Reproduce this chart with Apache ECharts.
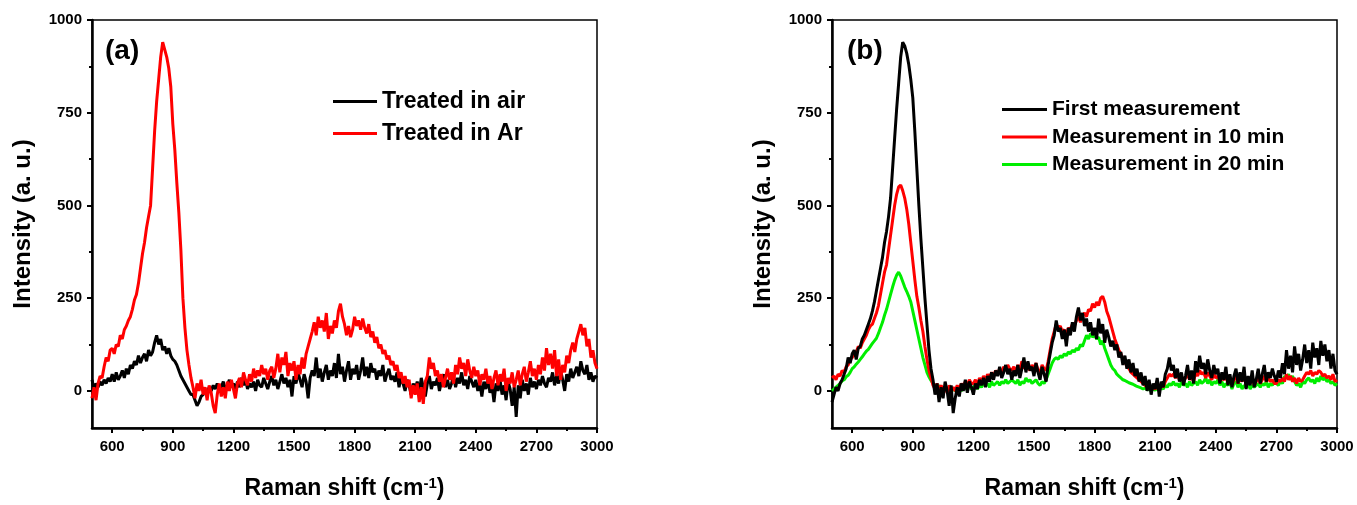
<!DOCTYPE html>
<html>
<head>
<meta charset="utf-8">
<script src="https://cdn.jsdelivr.net/npm/echarts@6/dist/echarts.min.js"></script>
<style>
html, body { margin: 0; padding: 0; background: #fff; }
#chart { width: 1357px; height: 505px; }
</style>
</head>
<body>
<div id="chart"></div>
<script>
// sampling grid of the spectra, cm-1
const shift = []
for (let x = 500; x <= 3000; x += 10) shift.push(x)

const xTicks = [600, 900, 1200, 1500, 1800, 2100, 2400, 2700, 3000]
const xMinor = [750, 1050, 1350, 1650, 1950, 2250, 2550, 2850]
const yTicks = [0, 250, 500, 750, 1000]
const yMinor = [125, 375, 625, 875]

// (a)
const treatedAir = [
  30, 5, 20, 10, 25, 15, 30, 20, 35, 25,
  45, 25, 50, 30, 40, 55, 35, 60, 45, 70,
  60, 80, 70, 95, 75, 90, 100, 80, 110, 95,
  105, 130, 150, 125, 140, 110, 120, 100, 115, 95,
  85, 80, 70, 55, 40, 30, 20, 10, 0, -10,
  -10, -25, -40, -30, -15, -10, 5, -5, 10, 0,
  15, 5, 20, 0, 10, 25, 5, 15, 30, 10,
  20, 5, 25, 10, 35, 15, 30, 5, 20, 10,
  25, 0, 30, 15, 10, 35, 20, 5, 25, 40,
  15, 30, 5, 25, 45, 20, 35, 10, 30, -15,
  40, 20, 50, 30, 10, 45, 25, -20, 35, 55,
  40, 90, 35, 60, 25, 50, 70, 30, 55, 40,
  75, 35, 100, 45, 65, 25, 55, 80, 30, 60,
  45, 70, 30, 55, 90, 40, 65, 35, 75, 50,
  60, 30, 55, 40, 70, 25, 45, 60, 30, 40,
  25, 50, 10, 35, 20, 0, 30, 15, -10, 20,
  5, 25, -5, 35, 10, -15, 20, 40, 5, 25,
  15, 35, 0, 25, 45, 10, 30, 5, 20, 40,
  10, 35, 20, 50, 15, 30, 5, 40, 25, 10,
  30, 0, 20, -15, 25, 5, 35, -5, 15, -30,
  20, 0, 30, -10, 15, -25, 25, 5, -40, 10,
  -70, 15, -20, 30, 0, 20, -10, 35, 10, 25,
  5, 30, 15, 40, 20, 10, 35, 25, 50, 15,
  40, 20, 55, 30, 0, 45, 25, 60, 35, 50,
  65, 40, 80, 55, 45, 70, 30, 50, 25, 40,
  35
]
const treatedAr = [
  -20, 10, -25, 20, 40, 35, 65, 90, 80, 110,
  115, 100, 125, 120, 150, 140, 165, 175, 190, 200,
  220, 245, 260, 290, 330, 370, 400, 440, 470, 500,
  600, 700, 780, 840, 900, 940, 920, 900, 870, 820,
  720, 650, 560, 480, 380, 250, 170, 110, 70, 35,
  10, -20, 20, 0, 30, -10, 10, -25, 15, -5,
  -40, -60, -10, 20, -15, 10, -20, 25, 0, 30,
  5, -20, 20, 35, 10, 50, 30, 15, 45, 25,
  60, 35, 55, 40, 70, 45, 60, 30, 55, 65,
  35, 60, 100, 50, 90, 70, 105, 40, 75, 55,
  80, 30, 70, 45, 90, 60, 100, 120, 140, 160,
  185, 150, 200, 170, 190, 160, 210, 140, 175, 155,
  190, 170, 215, 235, 200, 180, 150, 175, 145, 165,
  200, 175, 190, 165, 195, 170, 155, 180, 145, 160,
  130, 145, 115, 125, 100, 110, 85, 95, 70, 80,
  55, 70, 35, 50, 20, 40, 10, 30, -20, 15,
  -10, 20, -30, 10, -35, 25, 40, 90, 60, 75,
  40, 55, 25, 45, 10, 35, 60, 30, 50, 20,
  70, 45, 90, 60, 75, 40, 85, 55, 35, 65,
  40, 55, 15, 45, 30, 60, 20, 40, 5, 35,
  55, 15, 45, 25, 60, 0, 35, 20, 50, 10,
  30, 55, 15, 45, 65, 25, 50, 80, 40, 60,
  30, 70, 45, 90, 55, 115, 70, 100, 60, 110,
  40, 85, 30, 70, 50, 95, 75, 110, 130, 105,
  140, 160, 180, 150, 170, 120, 140, 90, 110, 75,
  60
]

// (b)
const firstMeas = [
  -30, -10, 10, 0, 20, 30, 45, 60, 90, 75,
  100, 110, 85, 115, 120, 140, 150, 165, 180, 195,
  215, 240, 270, 300, 330, 360, 400, 430, 470, 520,
  600, 680, 760, 830, 900, 940, 930, 910, 880, 840,
  790, 700, 600, 500, 410, 330, 250, 180, 110, 60,
  30, -10, 20, -30, 10, -20, 25, 0, -40, 15,
  -60, -20, 10, -15, 20, 0, 30, -5, 25, 10,
  -10, 20, 5, 30, 15, 35, 10, 40, 25, 50,
  30, 55, 40, 65, 35, 50, 70, 45, 60, 30,
  55, 40, 70, 35, 60, 90, 50, 80, 55, 65,
  40, 75, 50, 30, 65, 45, 25, 70, 100, 130,
  150, 190, 160, 170, 140, 165, 120, 170, 150, 185,
  160, 200, 225, 190, 210, 175, 195, 160, 185, 150,
  170, 140, 195, 155, 180, 130, 165, 145, 120, 135,
  110, 125, 90, 105, 70, 95, 60, 85, 50, 75,
  40, 60, 25, 50, 15, 40, 0, 30, -10, 20,
  5, 35, -15, 25, 10, 45, 60, 90, 55, 70,
  35, 60, 25, 50, 15, 40, 70, 30, 55, 20,
  80, 50, 95, 60, 75, 45, 85, 55, 35, 70,
  45, 60, 20, 50, 30, 65, 15, 45, 10, 40,
  60, 20, 50, 25, 65, 5, 40, 15, 55, 10,
  30, 60, 20, 45, 70, 25, 50, 35, 60, 40,
  25, 55, 35, 75, 45, 110, 60, 95, 50, 120,
  70, 100, 55, 85, 125, 75, 110, 60, 130, 90,
  115, 70, 135, 95, 125, 80, 110, 60, 100, 55,
  45
]
const meas10 = [
  35, 40, 30, 45, 40, 55, 50, 65, 70, 85,
  90, 100, 105, 120, 115, 130, 140, 150, 165, 175,
  180, 195, 210, 230, 260, 290, 320, 340, 380, 420,
  460, 500, 530, 550, 555, 540, 520, 490, 450, 400,
  350, 300, 255, 225, 190, 160, 120, 85, 55, 35,
  15, 5, 20, 0, 15, 5, 10, -5, 15, 0,
  10, 0, 15, 5, 20, 10, 25, 15, 30, 20,
  20, 30, 15, 35, 25, 40, 30, 45, 35, 50,
  40, 55, 45, 60, 50, 65, 55, 70, 60, 55,
  65, 50, 70, 55, 80, 60, 75, 65, 55, 70,
  60, 75, 55, 50, 70, 60, 55, 80, 110, 140,
  160, 180, 170, 175, 160, 165, 150, 170, 165, 180,
  175, 190, 200, 185, 205, 210, 200, 220, 215, 235,
  225, 240, 230, 250, 255, 240, 215, 200, 180, 160,
  140, 125, 110, 100, 85, 80, 65, 60, 50, 45,
  40, 35, 30, 25, 20, 15, 10, 15, 5, 10,
  5, 15, 0, 20, 10, 25, 35, 45, 40, 45,
  35, 45, 30, 40, 25, 35, 45, 30, 40, 25,
  50, 40, 55, 45, 50, 35, 50, 40, 30, 45,
  35, 40, 25, 35, 30, 40, 20, 35, 15, 30,
  40, 20, 35, 25, 45, 15, 30, 20, 40, 15,
  25, 35, 20, 30, 40, 25, 35, 25, 30, 20,
  20, 30, 25, 35, 25, 45, 30, 40, 25, 35,
  20, 35, 25, 30, 40, 50, 45, 55, 40, 50,
  45, 55, 50, 40, 45, 35, 40, 30, 45, 25,
  30
]
const meas20 = [
  0, 5, 10, 15, 20, 27, 30, 38, 42, 50,
  60, 65, 72, 78, 85, 92, 100, 107, 112, 120,
  128, 135, 142, 155, 170, 185, 204, 220, 240, 260,
  280, 298, 312, 320, 310, 295, 280, 268, 255, 240,
  215, 190, 165, 140, 115, 90, 70, 50, 38, 28,
  20, 15, 10, 15, 5, 10, 0, 5, 10, 0,
  5, 0, 10, 5, 0, 10, 5, 10, 15, 5,
  10, 15, 5, 15, 10, 20, 15, 20, 10, 25,
  15, 20, 25, 15, 25, 20, 30, 20, 25, 30,
  25, 20, 30, 15, 25, 20, 35, 25, 30, 20,
  25, 30, 20, 15, 25, 20, 30, 45, 60, 75,
  85, 90, 85, 95, 90, 100, 95, 105, 100, 110,
  105, 115, 110, 125, 120, 135, 150, 140, 155, 145,
  150, 140, 145, 125, 135, 115, 100, 85, 70, 60,
  55, 45, 40, 35, 30, 28, 25, 22, 20, 18,
  15, 12, 10, 8, 5, 8, 3, 5, 0, 5,
  2, 8, 0, 10, 5, 15, 10, 20, 15, 25,
  15, 20, 10, 25, 15, 20, 10, 25, 15, 20,
  25, 15, 30, 20, 25, 35, 20, 30, 15, 25,
  20, 30, 15, 25, 10, 20, 15, 25, 5, 20,
  25, 10, 20, 5, 15, 10, 20, 5, 15, 10,
  15, 20, 10, 20, 15, 25, 10, 20, 15, 25,
  20, 15, 25, 20, 40, 35, 45, 30, 40, 25,
  15, 20, 10, 25, 20, 30, 35, 25, 30, 20,
  35, 25, 40, 30, 35, 25, 30, 20, 25, 15,
  20
]

const font = '"Liberation Sans", Arial, sans-serif'
const black = '#000'

function pairs(vals) {
  return vals.map((v, i) => [shift[i], v])
}

function plain(v) {
  return String(v)
}

function makeXAxes(gridIndex) {
  return [{
    type: 'value', gridIndex: gridIndex, min: 500, max: 3000, position: 'bottom',
    axisLine: { show: true, onZero: false, lineStyle: { color: black, width: 2.5 } },
    axisTick: { show: true, customValues: xTicks, length: 5, lineStyle: { color: black, width: 2 } },
    axisLabel: { customValues: xTicks, formatter: plain, color: black, fontSize: 15, fontWeight: 'bold', fontFamily: font, margin: 11 },
    splitLine: { show: false },
    name: 'Raman shift (cm{sup|-1})', nameLocation: 'middle', nameGap: 48,
    nameTextStyle: {
      color: black, fontSize: 23, fontWeight: 'bold', fontFamily: font,
      rich: { sup: { fontSize: 15, fontWeight: 'bold', fontFamily: font, color: black, verticalAlign: 'top', padding: [0, 0, 10, 0] } }
    }
  }, {
    type: 'value', gridIndex: gridIndex, min: 500, max: 3000, position: 'bottom',
    axisLine: { show: false, onZero: false },
    axisTick: { show: true, customValues: xMinor, length: 3, lineStyle: { color: black, width: 2 } },
    axisLabel: { show: false },
    splitLine: { show: false }
  }]
}

function makeYAxes(gridIndex) {
  return [{
    type: 'value', gridIndex: gridIndex, min: -100, max: 1000, position: 'left',
    axisLine: { show: true, onZero: false, lineStyle: { color: black, width: 2.5 } },
    axisTick: { show: true, customValues: yTicks, length: 5, lineStyle: { color: black, width: 2 } },
    axisLabel: { customValues: yTicks, formatter: plain, color: black, fontSize: 15, fontWeight: 'bold', fontFamily: font, margin: 10 },
    splitLine: { show: false },
    name: 'Intensity (a. u.)', nameLocation: 'middle', nameGap: 57,
    nameTextStyle: { color: black, fontSize: 24, fontWeight: 'bold', fontFamily: font }
  }, {
    type: 'value', gridIndex: gridIndex, min: -100, max: 1000, position: 'left',
    axisLine: { show: false, onZero: false },
    axisTick: { show: true, customValues: yMinor, length: 3, lineStyle: { color: black, width: 2 } },
    axisLabel: { show: false },
    splitLine: { show: false }
  }]
}

function line(name, vals, color, gridIndex) {
  return {
    name: name, type: 'line', data: pairs(vals),
    xAxisIndex: gridIndex * 2, yAxisIndex: gridIndex * 2,
    showSymbol: false, symbol: 'none',
    lineStyle: { color: color, width: 3 }, itemStyle: { color: color },
    animation: false
  }
}

const legendBase = {
  orient: 'vertical', icon: 'rect', itemHeight: 3, selectedMode: false, padding: 0
}

const chart = echarts.init(document.getElementById('chart'))
chart.setOption({
  backgroundColor: '#fff',
  animation: false,
  grid: [
    { left: 92, top: 20, width: 505, height: 412, show: true, borderColor: black, borderWidth: 1.5, backgroundColor: 'transparent' },
    { left: 832, top: 20, width: 505, height: 412, show: true, borderColor: black, borderWidth: 1.5, backgroundColor: 'transparent' }
  ],
  xAxis: makeXAxes(0).concat(makeXAxes(1)),
  yAxis: makeYAxes(0).concat(makeYAxes(1)),
  legend: [
    Object.assign({}, legendBase, {
      data: ['Treated in air', 'Treated in Ar'],
      left: 333, top: 90, itemWidth: 44, itemGap: 9,
      textStyle: { color: black, fontSize: 23, fontWeight: 'bold', fontFamily: font }
    }),
    Object.assign({}, legendBase, {
      data: ['First measurement', 'Measurement in 10 min', 'Measurement in 20 min'],
      left: 1002, top: 99, itemWidth: 45, itemGap: 6.5,
      textStyle: { color: black, fontSize: 21, fontWeight: 'bold', fontFamily: font }
    })
  ],
  graphic: [
    { type: 'text', left: 105, top: 37, style: { text: '(a)', font: 'bold 28px ' + font, fill: black } },
    { type: 'text', left: 847, top: 37, style: { text: '(b)', font: 'bold 28px ' + font, fill: black } }
  ],
  series: [
    line('Treated in air', treatedAir, '#000000', 0),
    line('Treated in Ar', treatedAr, '#ff0000', 0),
    line('Measurement in 20 min', meas20, '#00ee00', 1),
    line('Measurement in 10 min', meas10, '#ff0000', 1),
    line('First measurement', firstMeas, '#000000', 1)
  ]
})
</script>
</body>
</html>
